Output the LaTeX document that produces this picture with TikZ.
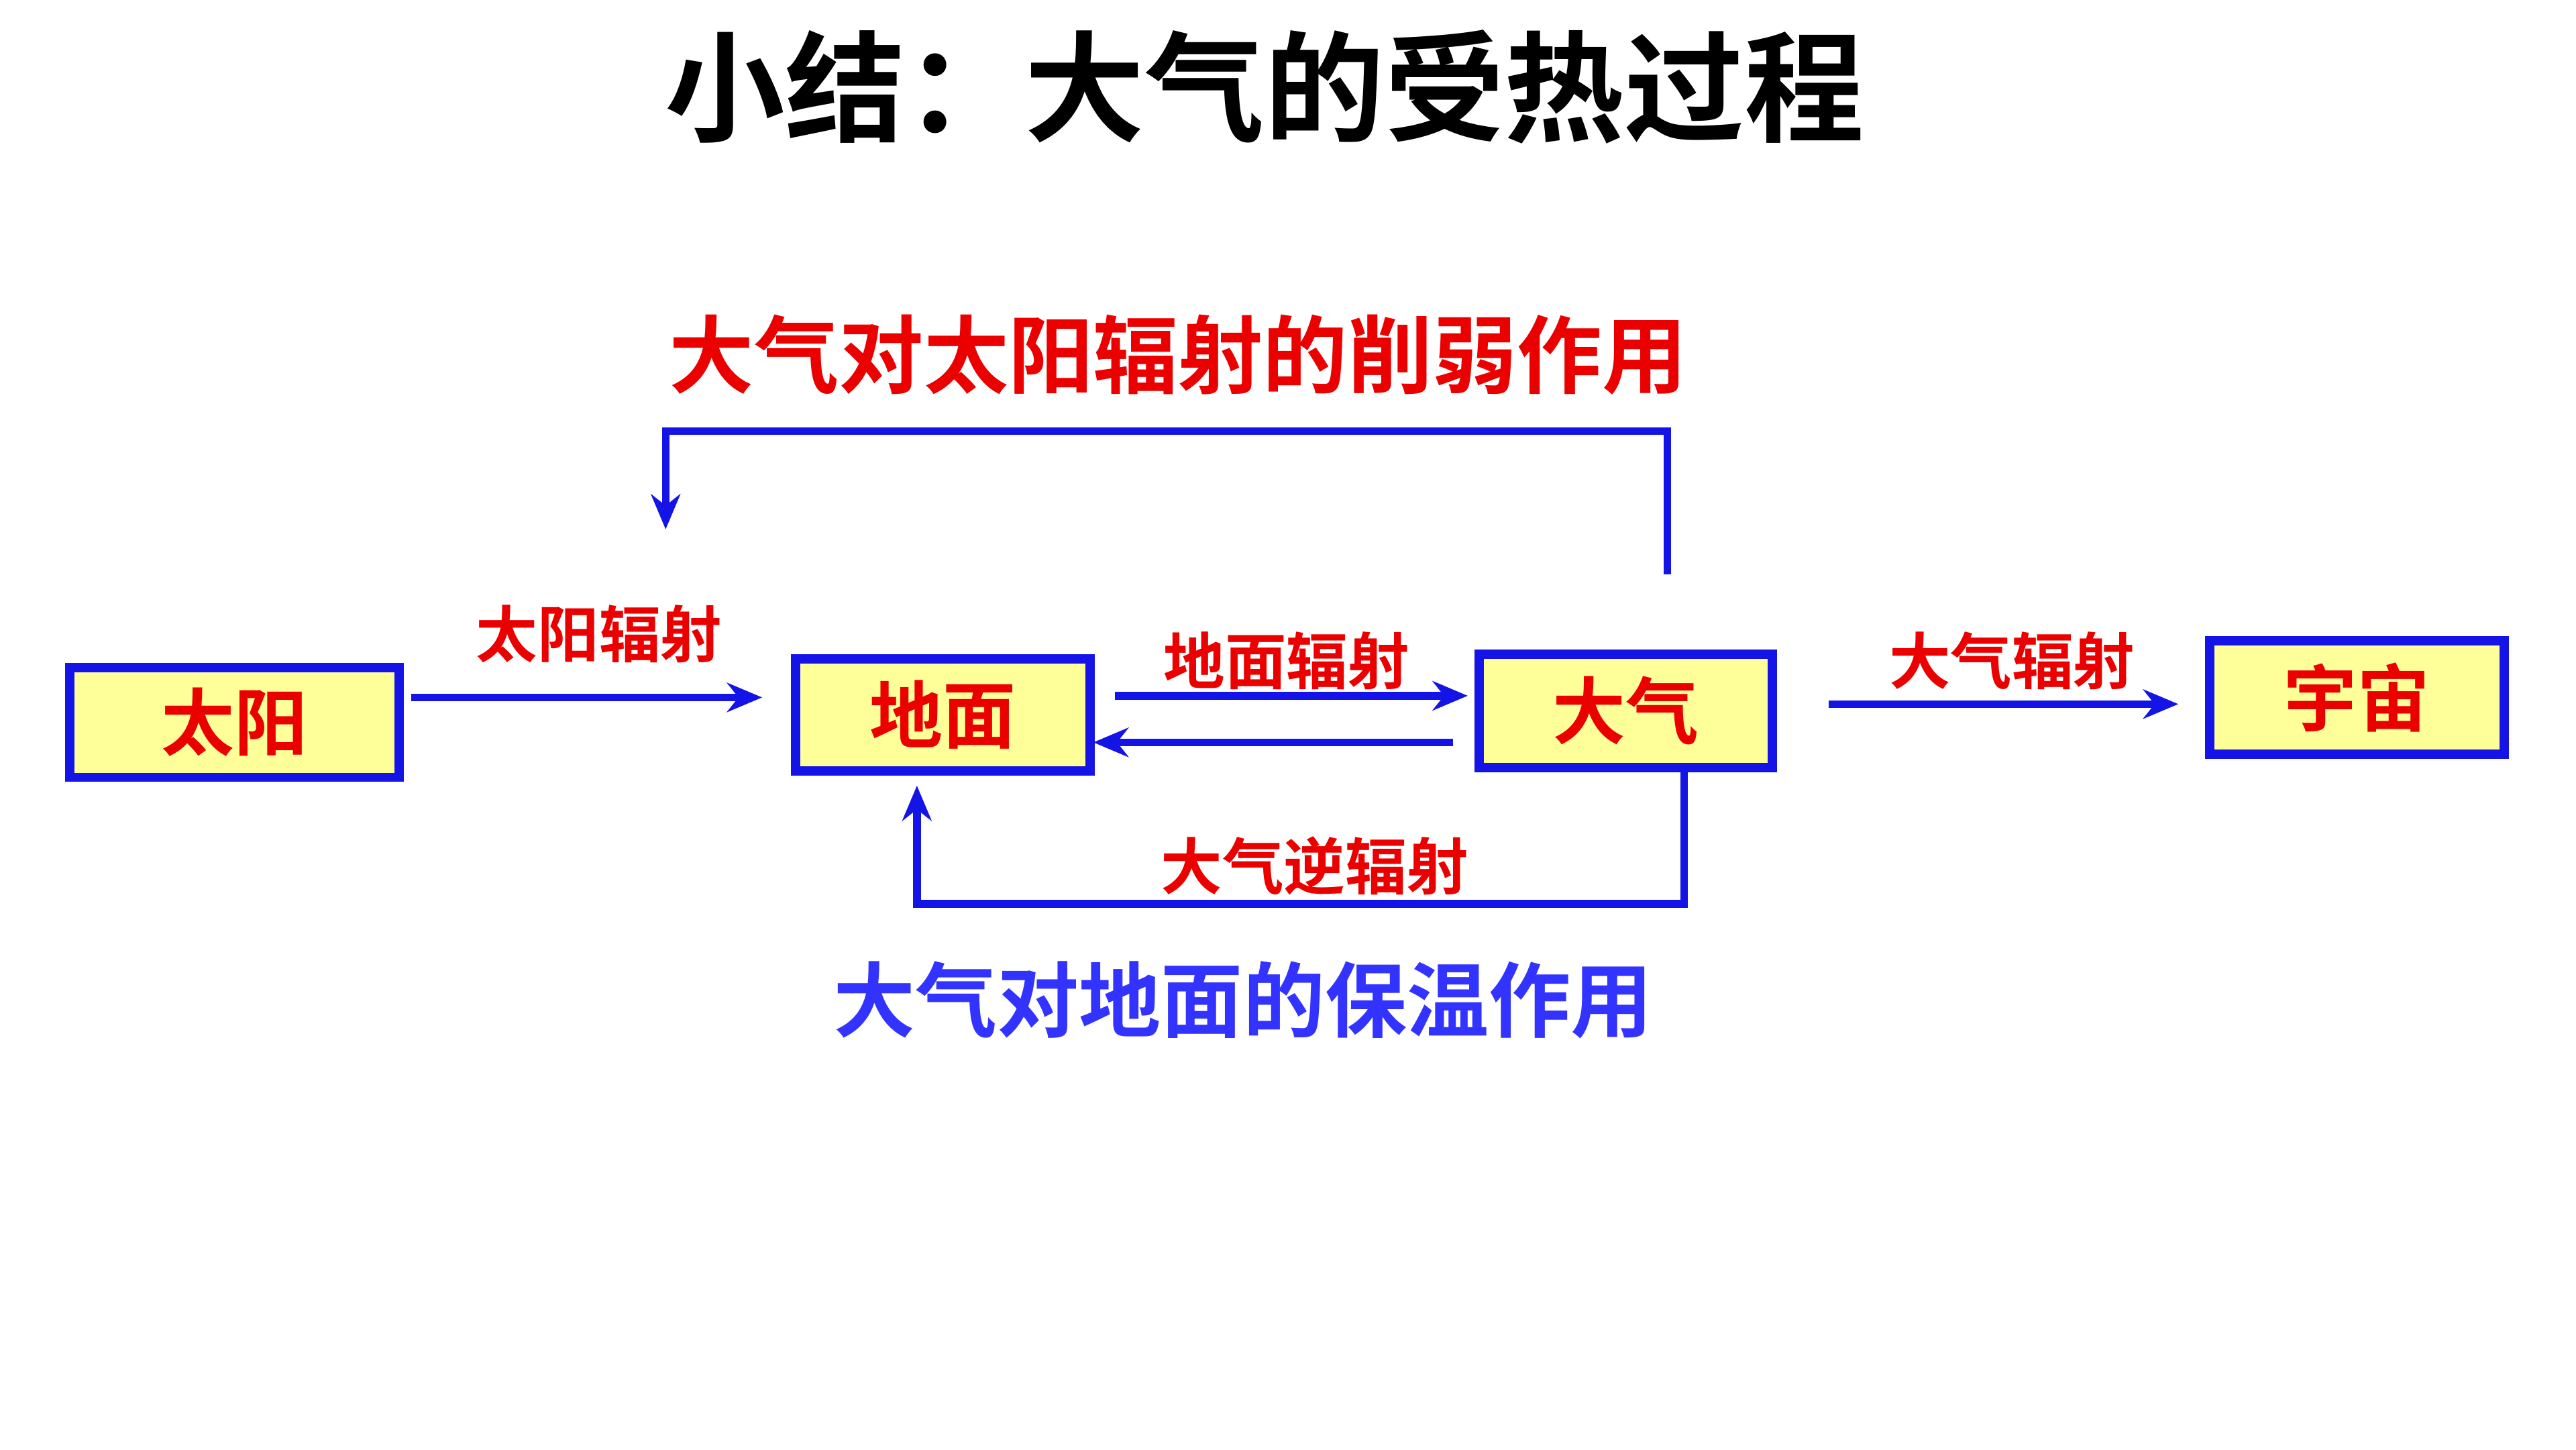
\documentclass[tikz,border=0pt]{standalone}
\usepackage{fontspec}
\newfontfamily\cjk{Noto Sans CJK SC}[BoldFont={Noto Sans CJK SC Bold}]
\usetikzlibrary{arrows.meta}
\definecolor{boxfill}{RGB}{255,255,153}
\definecolor{lineblue}{RGB}{20,20,230}
\definecolor{txtblue}{RGB}{51,51,255}
\definecolor{txtred}{RGB}{235,0,0}
\tikzset{
 box/.style={draw=lineblue,line width=1.6pt,fill=boxfill,inner sep=0pt,font=\cjk\bfseries\fontsize{12.5}{14}\selectfont,text=txtred},
 conn/.style={draw=lineblue,line width=1.3pt,-{Stealth[length=6pt,width=5pt]}},
 lab/.style={font=\cjk\bfseries\fontsize{10.5}{12}\selectfont,text=txtred}
}
\begin{document}
\begin{tikzpicture}[x=1cm,y=-1cm]
\useasboundingbox (0,0) rectangle (15.48,8.71);
\node[font=\cjk\bfseries\fontsize{20.5}{24}\selectfont] (title) at (7.6,0.52) {小结：大气的受热过程};
\node[font=\cjk\bfseries\fontsize{14.5}{17}\selectfont,text=txtred] (h1) at (7.08,2.13) {大气对太阳辐射的削弱作用};
\node[font=\cjk\bfseries\fontsize{14}{17}\selectfont,text=txtblue] (h2) at (7.47,6.01) {大气对地面的保温作用};
\node[box,minimum width=1.98cm,minimum height=0.66cm] (sun) at (1.41,4.34) {太阳};
\node[box,minimum width=1.77cm,minimum height=0.67cm] (gnd) at (5.665,4.295) {地面};
\node[box,minimum width=1.76cm,minimum height=0.68cm] (atm) at (9.77,4.27) {大气};
\node[box,minimum width=1.77cm,minimum height=0.68cm] (spc) at (14.165,4.19) {宇宙};
\coordinate (a1) at (2.47,4.19); \coordinate (a2) at (4.58,4.19);
\draw[conn] (a1) -- (a2);
\node[lab] (l1) at (3.6,3.81) {太阳辐射};
\coordinate (b1) at (6.70,4.18); \coordinate (b2) at (8.82,4.18);
\draw[conn] (b1) -- (b2);
\node[lab] (l2) at (7.73,3.97) {地面辐射};
\coordinate (c1) at (8.73,4.46); \coordinate (c2) at (6.57,4.46);
\draw[conn] (c1) -- (c2);
\coordinate (d1) at (10.99,4.23); \coordinate (d2) at (13.09,4.23);
\draw[conn] (d1) -- (d2);
\node[lab] (l3) at (12.09,3.97) {大气辐射};
\coordinate (e1) at (10.02,3.45); \coordinate (e2) at (4.00,3.18);
\draw[conn] (e1) -- (10.02,2.59) -- (4.00,2.59) -- (e2);
\coordinate (f2) at (5.51,4.72);
\draw[conn] (10.12,4.61) -- (10.12,5.43) -- (5.51,5.43) -- (f2);
\node[lab] (l4) at (7.9,5.20) {大气逆辐射};
\end{tikzpicture}
\end{document}
